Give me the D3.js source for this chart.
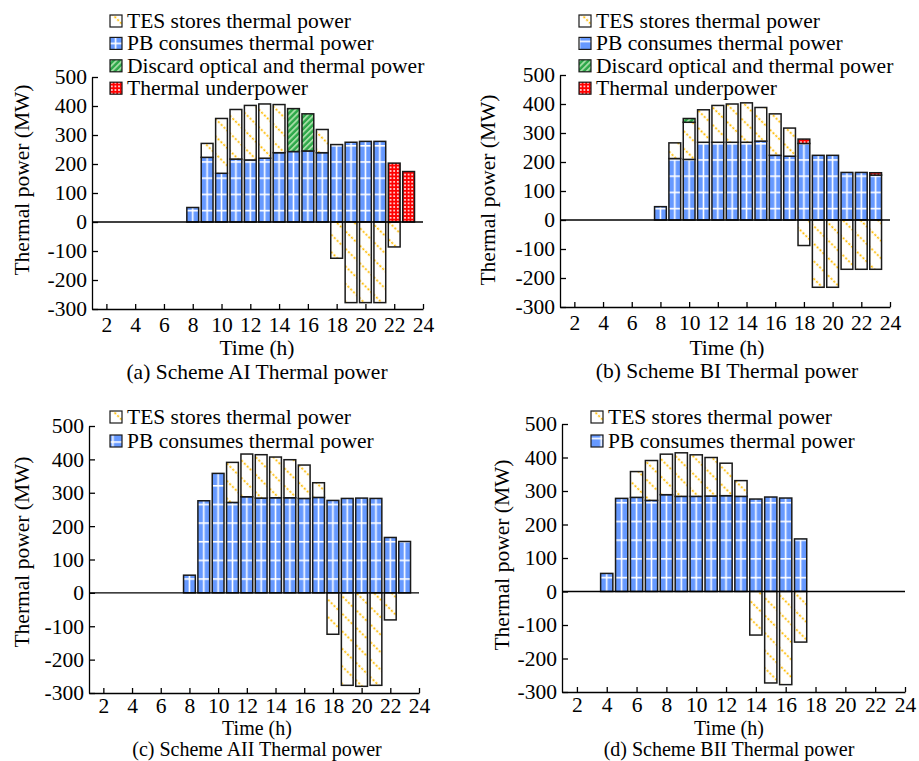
<!DOCTYPE html>
<html>
<head>
<meta charset="utf-8">
<script src="https://cdn.jsdelivr.net/npm/d3@7"></script>
<style>
  body { margin: 0; background: #fff; }
  text { font-family: "Liberation Serif", "Times New Roman", serif; fill: #000; }
</style>
</head>
<body>
<script>
// ---- data ----
var xTicks = [2, 4, 6, 8, 10, 12, 14, 16, 18, 20, 22, 24];
var yTicks = [-300, -200, -100, 0, 100, 200, 300, 400, 500];

var legendNames = {
  tes: "TES stores thermal power",
  pb: "PB consumes thermal power",
  discard: "Discard optical and thermal power",
  under: "Thermal underpower"
};

// (a) Scheme AI
var hoursA   = [8, 9, 10, 11, 12, 13, 14, 15, 16, 17, 18, 19, 20, 21, 22, 23];
var pbA      = [50, 223, 168, 217, 214, 220, 239, 243, 245, 239, 267, 275, 278, 278, 0, 0];
var tesA     = [0, 48, 189, 171, 188, 187, 166, 0, 0, 80, -125, -278, -278, -278, -86, 0];
var discardA = [0, 0, 0, 0, 0, 0, 0, 148, 128, 0, 0, 0, 0, 0, 0, 0];
var underA   = [0, 0, 0, 0, 0, 0, 0, 0, 0, 0, 0, 0, 0, 0, 203, 174];

// (b) Scheme BI
var hoursB   = [8, 9, 10, 11, 12, 13, 14, 15, 16, 17, 18, 19, 20, 21, 22, 23];
var pbB      = [46, 212, 209, 268, 268, 268, 268, 272, 223, 220, 264, 223, 223, 164, 164, 155];
var tesB     = [0, 54, 128, 112, 127, 132, 136, 116, 143, 97, -88, -232, -232, -170, -170, -170];
var discardB = [0, 0, 13, 0, 0, 0, 0, 0, 0, 0, 0, 0, 0, 0, 0, 0];
var underB   = [0, 0, 0, 0, 0, 0, 0, 0, 0, 0, 15, 0, 0, 0, 0, 8];

// (c) Scheme AII
var hoursC = [8, 9, 10, 11, 12, 13, 14, 15, 16, 17, 18, 19, 20, 21, 22, 23];
var pbC    = [53, 276, 358, 271, 288, 284, 285, 285, 283, 286, 277, 283, 284, 283, 166, 154];
var tesC   = [0, 0, 0, 120, 128, 130, 122, 114, 100, 44, -124, -277, -280, -277, -81, 0];

// (d) Scheme BII
var hoursD = [4, 5, 6, 7, 8, 9, 10, 11, 12, 13, 14, 15, 16, 17];
var pbD    = [54, 278, 281, 272, 289, 284, 284, 285, 286, 284, 276, 282, 279, 157];
var tesD   = [0, 0, 77, 119, 121, 130, 124, 115, 97, 47, -130, -273, -278, -151];

function rows(hours, pb, tes, discard, under) {
  return hours.map(function(h, i) {
    return { hour: h, pb: pb[i], tes: tes[i],
             discard: discard ? discard[i] : 0, under: under ? under[i] : 0 };
  });
}

var panels = [
  { id: "a", data: rows(hoursA, pbA, tesA, discardA, underA),
    legend: ["tes", "pb", "discard", "under"],
    x0: 92, x1: 423, yTop: 77, yBot: 309,
    lx: 110, ly: 21, lstep: 22.4, pad: 8, bfs: 21.5,
    ylabX: 29, ylabY: 180, cx: 257, timeY: 355, subY: 379,
    title: "(a) Scheme AI Thermal power" },
  { id: "b", data: rows(hoursB, pbB, tesB, discardB, underB),
    legend: ["tes", "pb", "discard", "under"],
    x0: 560, x1: 890, yTop: 75, yBot: 307,
    lx: 579, ly: 21, lstep: 22.4, pad: 8, bfs: 21.5,
    ylabX: 495, ylabY: 190, cx: 727, timeY: 355, subY: 378,
    title: "(b) Scheme BI Thermal power" },
  { id: "c", data: rows(hoursC, pbC, tesC),
    legend: ["tes", "pb"],
    x0: 89, x1: 419, yTop: 426, yBot: 693,
    lx: 110, ly: 417, lstep: 24, pad: 5, bfs: 20,
    ylabX: 29, ylabY: 552, cx: 257, timeY: 735, subY: 756.3,
    title: "(c) Scheme AII Thermal power" },
  { id: "d", data: rows(hoursD, pbD, tesD),
    legend: ["tes", "pb"],
    x0: 562, x1: 905, yTop: 424, yBot: 692,
    lx: 591, ly: 417, lstep: 24, pad: 5, bfs: 20,
    ylabX: 509, ylabY: 555, cx: 729, timeY: 735, subY: 756.3,
    title: "(d) Scheme BII Thermal power" }
];

var W = 919, H = 761, FS = 21.5;
var keys = ["pb", "tes", "discard", "under"];

var svg = d3.select("body").append("svg")
  .attr("width", W).attr("height", H)
  .style("background", "#fff");

var defs = svg.append("defs");

// TES: white with dashed orange "\" diagonals
var pt = defs.append("pattern").attr("id", "tes")
  .attr("patternUnits", "userSpaceOnUse")
  .attr("width", 12).attr("height", 12.4)
  .attr("patternTransform", "rotate(45)");
pt.append("rect").attr("width", 12).attr("height", 12.4).attr("fill", "#fff");
pt.append("line").attr("x1", 0).attr("x2", 12).attr("y1", 6).attr("y2", 6)
  .attr("stroke", "#ffbb00").attr("stroke-width", 1.7).attr("stroke-dasharray", "2.2,1.8");

// discard: green with light "/" stripes
var pg = defs.append("pattern").attr("id", "discard")
  .attr("patternUnits", "userSpaceOnUse")
  .attr("width", 6).attr("height", 4.2)
  .attr("patternTransform", "rotate(-45)");
pg.append("rect").attr("width", 6).attr("height", 4.2).attr("fill", "#2ea84a");
pg.append("rect").attr("y", 0).attr("width", 6).attr("height", 1.8).attr("fill", "#a6dea6");

// under: red with white dots
var pr = defs.append("pattern").attr("id", "under")
  .attr("patternUnits", "userSpaceOnUse")
  .attr("width", 3.6).attr("height", 3.6);
pr.append("rect").attr("width", 3.6).attr("height", 3.6).attr("fill", "#ff0000");
pr.append("rect").attr("x", 1).attr("y", 1).attr("width", 1.6).attr("height", 1.6).attr("fill", "#fff");

var stack = d3.stack().keys(keys).offset(d3.stackOffsetDiverging);

panels.forEach(function(p) {
  var x = d3.scaleLinear().domain([1, 24]).range([p.x0, p.x1]);
  var y = d3.scaleLinear().domain([-300, 500]).range([p.yBot, p.yTop]);
  var step = x(2) - x(1);
  var bw = step * 0.82;
  var ph = 16.2 * (p.yBot - p.yTop) / 232;

  // PB: blue with white grid, vertical line in the middle of each bar
  var pbp = defs.append("pattern").attr("id", "pb-" + p.id)
    .attr("patternUnits", "userSpaceOnUse")
    .attr("x", x(1) - step / 2).attr("y", y(0) + 4)
    .attr("width", step).attr("height", ph);
  pbp.append("rect").attr("width", step).attr("height", ph).attr("fill", "#6699ff");
  pbp.append("rect").attr("x", 0).attr("y", 0).attr("width", step).attr("height", 1.6).attr("fill", "#fff");
  pbp.append("rect").attr("x", step / 2 - 0.8).attr("y", 0).attr("width", 1.6).attr("height", ph).attr("fill", "#fff");

  var fills = { pb: "url(#pb-" + p.id + ")", tes: "url(#tes)", discard: "url(#discard)", under: "url(#under)" };

  var g = svg.append("g");
  var series = stack(p.data);

  g.selectAll("g.series")
    .data(series)
    .enter().append("g")
    .attr("class", "series")
    .attr("fill", function(s) { return fills[s.key]; })
    .selectAll("rect")
    .data(function(s) { return s.filter(function(d) { return d[1] - d[0] !== 0; }); })
    .enter().append("rect")
    .attr("x", function(d) { return x(d.data.hour) - bw / 2; })
    .attr("width", bw)
    .attr("y", function(d) { return y(Math.max(d[0], d[1])); })
    .attr("height", function(d) { return Math.abs(y(d[0]) - y(d[1])); })
    .attr("stroke", "#1a1a1a")
    .attr("stroke-width", 1.5);

  // zero line
  g.append("line")
    .attr("x1", x(1)).attr("x2", x(24))
    .attr("y1", y(0)).attr("y2", y(0))
    .attr("stroke", "#000").attr("stroke-width", 1.3);

  // axes
  var xAxis = d3.axisBottom(x).tickValues(xTicks).tickSize(-5).tickSizeOuter(0).tickPadding(p.pad);
  var yAxis = d3.axisLeft(y).tickValues(yTicks).tickSize(-6).tickSizeOuter(0).tickPadding(5)
    .tickFormat(function(d) { return String(d); });

  var gx = g.append("g").attr("transform", "translate(0," + y(-300) + ")").call(xAxis);
  var gy = g.append("g").attr("transform", "translate(" + x(1) + ",0)").call(yAxis);
  [gx, gy].forEach(function(a) {
    a.selectAll("path, line").attr("stroke", "#000").attr("stroke-width", 1.3);
    a.selectAll("text").style("font-family", "'Liberation Serif', 'Times New Roman', serif")
      .style("font-size", FS + "px").attr("fill", "#000");
  });

  // axis titles
  g.append("text")
    .attr("transform", "translate(" + p.ylabX + "," + p.ylabY + ") rotate(-90)")
    .attr("text-anchor", "middle")
    .style("font-size", FS + "px")
    .text("Thermal power (MW)");

  g.append("text")
    .attr("x", p.cx).attr("y", p.timeY)
    .attr("text-anchor", "middle")
    .style("font-size", p.bfs + "px")
    .text("Time (h)");

  g.append("text")
    .attr("x", p.cx).attr("y", p.subY)
    .attr("text-anchor", "middle")
    .style("font-size", p.bfs + "px")
    .text(p.title);

  // legend
  var lg = g.selectAll("g.legend")
    .data(p.legend)
    .enter().append("g")
    .attr("class", "legend")
    .attr("transform", function(k, i) { return "translate(" + p.lx + "," + (p.ly + i * p.lstep) + ")"; });

  lg.append("rect")
    .attr("x", 0).attr("y", -6).attr("width", 12).attr("height", 12)
    .attr("fill", function(k) { return fills[k]; })
    .attr("stroke", "#1a1a1a").attr("stroke-width", 1.2);

  lg.append("text")
    .attr("x", 17).attr("y", 7)
    .style("font-size", FS + "px")
    .text(function(k) { return legendNames[k]; });
});
</script>
</body>
</html>
